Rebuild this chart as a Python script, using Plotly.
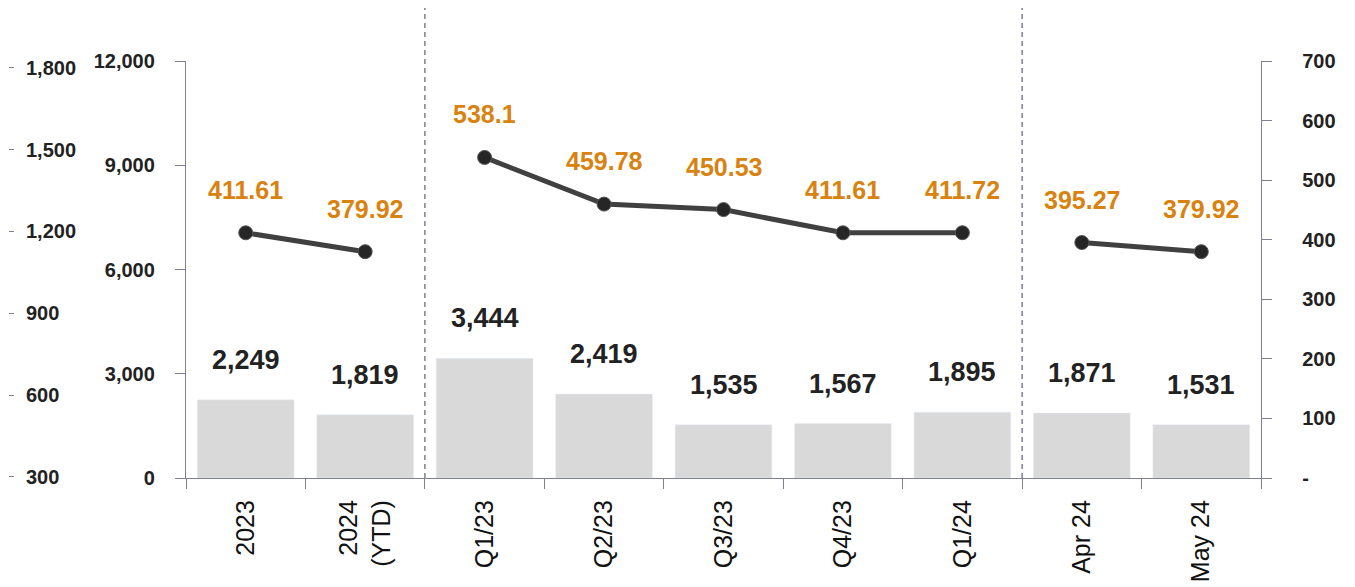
import plotly.graph_objects as go

categories = ['2023', '2024<br>(YTD)', 'Q1/23', 'Q2/23', 'Q3/23', 'Q4/23', 'Q1/24', 'Apr 24', 'May 24']
bar_values = [2249, 1819, 3444, 2419, 1535, 1567, 1895, 1871, 1531]
line_values = [411.61, 379.92, 538.1, 459.78, 450.53, 411.61, 411.72, 395.27, 379.92]
# line is broken into three groups (annual, quarterly, monthly)
groups = [(0, 2), (2, 7), (7, 9)]

left_ticks = [0, 3000, 6000, 9000, 12000]
right_ticks = [0, 100, 200, 300, 400, 500, 600, 700]
right_labels = ['-', '100', '200', '300', '400', '500', '600', '700']
outer_ticks = [300, 600, 900, 1200, 1500, 1800]

font = 'Liberation Sans, Arial, sans-serif'
axis_col = '#7f7f9a'
orange = '#d9820f'

xpos = list(range(len(categories)))

fig = go.Figure()

fig.add_trace(go.Bar(
    x=xpos, y=bar_values, marker_color='#d9d9d9', width=0.81,
    showlegend=False, hoverinfo='skip'))

for a, b in groups:
    fig.add_trace(go.Scatter(
        x=xpos[a:b], y=line_values[a:b], yaxis='y2',
        mode='lines+markers',
        line=dict(color='#404040', width=5),
        marker=dict(size=14, color='#262626', line=dict(color='#555555', width=1)),
        cliponaxis=False, showlegend=False))

# empty trace so the leftover outer axis gets drawn
fig.add_trace(go.Scatter(x=xpos, y=[None] * len(xpos), yaxis='y3',
                         showlegend=False, hoverinfo='skip'))

# value labels
for x, v in zip(xpos, bar_values):
    fig.add_annotation(x=x, y=v, yref='y', text=f'{v:,}', showarrow=False,
                       yshift=40, font=dict(size=27, color='#222222', family=font, weight='bold'))
for x, v in zip(xpos, line_values):
    fig.add_annotation(x=x, y=v, yref='y2', text=f'{v:g}', showarrow=False,
                       yshift=43, font=dict(size=25, color=orange, family=font, weight='bold'))

# dashed separators between the annual / quarterly / monthly groups
for a, b in groups[1:]:
    fig.add_shape(type='line', xref='x', yref='paper', x0=a - 0.5, x1=a - 0.5, y0=0, y1=1.15,
                  line=dict(color='#6a6a8a', width=1.3, dash='5px,4px'))

fig.update_layout(
    width=1355, height=587,
    margin=dict(l=0, r=0, t=53, b=117),
    plot_bgcolor='white', paper_bgcolor='white',
    font=dict(family=font, color='#222222'),
    xaxis=dict(
        range=[-0.5, len(categories) - 0.5],
        domain=[178 / 1355, 1253 / 1355],
        tickvals=xpos, ticktext=categories,
        tickangle=-90, tickfont=dict(size=25, color='#111111'),
        showline=True, linecolor=axis_col, linewidth=1.3,
        ticks='', ticklabelstandoff=11,
        minor=dict(tickvals=[i - 0.5 for i in range(len(categories) + 1)],
                   ticks='outside', ticklen=10, tickcolor=axis_col, showgrid=False),
        showgrid=False, zeroline=False, automargin=False),
    yaxis=dict(
        range=[0, 12000], tickvals=left_ticks, tickformat=',',
        tickfont=dict(size=20, weight='bold'),
        showline=True, linecolor=axis_col, linewidth=1.3,
        ticks='outside', ticklen=10, tickcolor=axis_col, ticklabelstandoff=16,
        showgrid=False, zeroline=False, automargin=False),
    yaxis2=dict(
        range=[0, 700], tickvals=right_ticks, ticktext=right_labels,
        overlaying='y', side='right', anchor='x',
        tickfont=dict(size=20, weight='bold'),
        showline=True, linecolor=axis_col, linewidth=1.3,
        ticks='outside', ticklen=10, tickcolor=axis_col, ticklabelstandoff=26,
        showgrid=False, zeroline=False, automargin=False),
    yaxis3=dict(
        range=[296, 1825], tickvals=outer_ticks, tickformat=',',
        overlaying='y', side='right', anchor='free', position=0,
        tickfont=dict(size=20, weight='bold'),
        showline=False, ticks='outside', ticklen=5, tickcolor=axis_col,
        ticklabelstandoff=8,
        showgrid=False, zeroline=False, automargin=False),
)

fig.write_html('out.html')
